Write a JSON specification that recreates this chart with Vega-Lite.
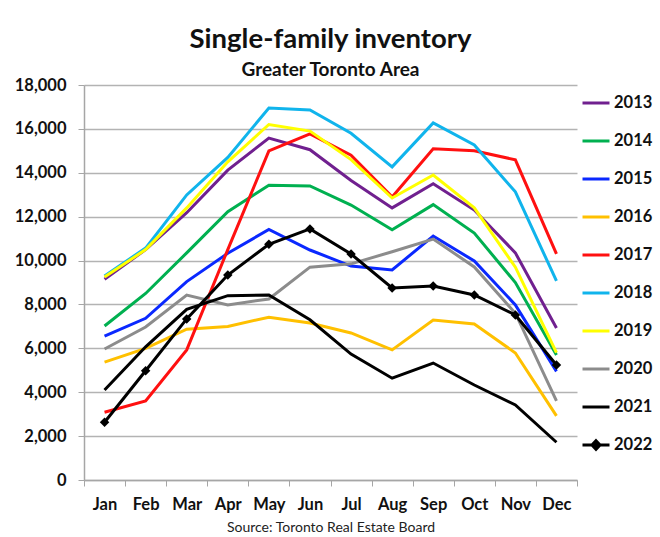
{
  "$schema": "https://vega.github.io/schema/vega-lite/v6.json",
  "width": 493,
  "height": 395,
  "autosize": {"type": "none"},
  "padding": {"left": 84, "top": 85, "right": 83, "bottom": 57},
  "background": "white",
  "title": {
    "text": "Single-family inventory",
    "subtitle": "Greater Toronto Area",
    "anchor": "middle",
    "font": "Lato",
    "fontSize": 27.5,
    "fontWeight": "bold",
    "color": "#111",
    "subtitleFont": "Lato",
    "subtitleFontSize": 19,
    "subtitleFontWeight": "bold",
    "subtitleColor": "#111",
    "subtitlePadding": 8,
    "offset": -3
  },
  "config": {
    "view": {"stroke": null},
    "font": "Lato"
  },
  "data": {
    "values": [
      {"year": "2013", "month": "Jan", "value": 9150}, {"year": "2013", "month": "Feb", "value": 10500}, {"year": "2013", "month": "Mar", "value": 12180}, {"year": "2013", "month": "Apr", "value": 14120}, {"year": "2013", "month": "May", "value": 15580}, {"year": "2013", "month": "Jun", "value": 15050}, {"year": "2013", "month": "Jul", "value": 13650}, {"year": "2013", "month": "Aug", "value": 12400}, {"year": "2013", "month": "Sep", "value": 13500}, {"year": "2013", "month": "Oct", "value": 12300}, {"year": "2013", "month": "Nov", "value": 10350}, {"year": "2013", "month": "Dec", "value": 6930},
      {"year": "2014", "month": "Jan", "value": 7020}, {"year": "2014", "month": "Feb", "value": 8500}, {"year": "2014", "month": "Mar", "value": 10350}, {"year": "2014", "month": "Apr", "value": 12230}, {"year": "2014", "month": "May", "value": 13430}, {"year": "2014", "month": "Jun", "value": 13400}, {"year": "2014", "month": "Jul", "value": 12530}, {"year": "2014", "month": "Aug", "value": 11400}, {"year": "2014", "month": "Sep", "value": 12550}, {"year": "2014", "month": "Oct", "value": 11250}, {"year": "2014", "month": "Nov", "value": 9000}, {"year": "2014", "month": "Dec", "value": 5700},
      {"year": "2015", "month": "Jan", "value": 6560}, {"year": "2015", "month": "Feb", "value": 7370}, {"year": "2015", "month": "Mar", "value": 9040}, {"year": "2015", "month": "Apr", "value": 10330}, {"year": "2015", "month": "May", "value": 11420}, {"year": "2015", "month": "Jun", "value": 10480}, {"year": "2015", "month": "Jul", "value": 9750}, {"year": "2015", "month": "Aug", "value": 9570}, {"year": "2015", "month": "Sep", "value": 11120}, {"year": "2015", "month": "Oct", "value": 9980}, {"year": "2015", "month": "Nov", "value": 7980}, {"year": "2015", "month": "Dec", "value": 4950},
      {"year": "2016", "month": "Jan", "value": 5370}, {"year": "2016", "month": "Feb", "value": 6000}, {"year": "2016", "month": "Mar", "value": 6870}, {"year": "2016", "month": "Apr", "value": 7000}, {"year": "2016", "month": "May", "value": 7420}, {"year": "2016", "month": "Jun", "value": 7150}, {"year": "2016", "month": "Jul", "value": 6700}, {"year": "2016", "month": "Aug", "value": 5930}, {"year": "2016", "month": "Sep", "value": 7290}, {"year": "2016", "month": "Oct", "value": 7110}, {"year": "2016", "month": "Nov", "value": 5790}, {"year": "2016", "month": "Dec", "value": 2920},
      {"year": "2017", "month": "Jan", "value": 3090}, {"year": "2017", "month": "Feb", "value": 3600}, {"year": "2017", "month": "Mar", "value": 5930}, {"year": "2017", "month": "Apr", "value": 10500}, {"year": "2017", "month": "May", "value": 15000}, {"year": "2017", "month": "Jun", "value": 15770}, {"year": "2017", "month": "Jul", "value": 14800}, {"year": "2017", "month": "Aug", "value": 12900}, {"year": "2017", "month": "Sep", "value": 15090}, {"year": "2017", "month": "Oct", "value": 15000}, {"year": "2017", "month": "Nov", "value": 14590}, {"year": "2017", "month": "Dec", "value": 10300},
      {"year": "2018", "month": "Jan", "value": 9300}, {"year": "2018", "month": "Feb", "value": 10570}, {"year": "2018", "month": "Mar", "value": 12990}, {"year": "2018", "month": "Apr", "value": 14700}, {"year": "2018", "month": "May", "value": 16950}, {"year": "2018", "month": "Jun", "value": 16860}, {"year": "2018", "month": "Jul", "value": 15800}, {"year": "2018", "month": "Aug", "value": 14270}, {"year": "2018", "month": "Sep", "value": 16270}, {"year": "2018", "month": "Oct", "value": 15270}, {"year": "2018", "month": "Nov", "value": 13130}, {"year": "2018", "month": "Dec", "value": 9070},
      {"year": "2019", "month": "Jan", "value": 9250}, {"year": "2019", "month": "Feb", "value": 10500}, {"year": "2019", "month": "Mar", "value": 12400}, {"year": "2019", "month": "Apr", "value": 14500}, {"year": "2019", "month": "May", "value": 16200}, {"year": "2019", "month": "Jun", "value": 15900}, {"year": "2019", "month": "Jul", "value": 14600}, {"year": "2019", "month": "Aug", "value": 12850}, {"year": "2019", "month": "Sep", "value": 13900}, {"year": "2019", "month": "Oct", "value": 12400}, {"year": "2019", "month": "Nov", "value": 9700}, {"year": "2019", "month": "Dec", "value": 5800},
      {"year": "2020", "month": "Jan", "value": 5970}, {"year": "2020", "month": "Feb", "value": 6970}, {"year": "2020", "month": "Mar", "value": 8430}, {"year": "2020", "month": "Apr", "value": 7980}, {"year": "2020", "month": "May", "value": 8250}, {"year": "2020", "month": "Jun", "value": 9700}, {"year": "2020", "month": "Jul", "value": 9850}, {"year": "2020", "month": "Aug", "value": 10400}, {"year": "2020", "month": "Sep", "value": 10980}, {"year": "2020", "month": "Oct", "value": 9710}, {"year": "2020", "month": "Nov", "value": 7600}, {"year": "2020", "month": "Dec", "value": 3610},
      {"year": "2021", "month": "Jan", "value": 4100}, {"year": "2021", "month": "Feb", "value": 6070}, {"year": "2021", "month": "Mar", "value": 7780}, {"year": "2021", "month": "Apr", "value": 8400}, {"year": "2021", "month": "May", "value": 8430}, {"year": "2021", "month": "Jun", "value": 7300}, {"year": "2021", "month": "Jul", "value": 5740}, {"year": "2021", "month": "Aug", "value": 4640}, {"year": "2021", "month": "Sep", "value": 5330}, {"year": "2021", "month": "Oct", "value": 4330}, {"year": "2021", "month": "Nov", "value": 3420}, {"year": "2021", "month": "Dec", "value": 1720},
      {"year": "2022", "month": "Jan", "value": 2630}, {"year": "2022", "month": "Feb", "value": 4980}, {"year": "2022", "month": "Mar", "value": 7340}, {"year": "2022", "month": "Apr", "value": 9340}, {"year": "2022", "month": "May", "value": 10740}, {"year": "2022", "month": "Jun", "value": 11440}, {"year": "2022", "month": "Jul", "value": 10300}, {"year": "2022", "month": "Aug", "value": 8750}, {"year": "2022", "month": "Sep", "value": 8840}, {"year": "2022", "month": "Oct", "value": 8430}, {"year": "2022", "month": "Nov", "value": 7520}, {"year": "2022", "month": "Dec", "value": 5240}
    ]
  },
  "encoding": {
    "x": {
      "field": "month",
      "type": "ordinal",
      "sort": ["Jan", "Feb", "Mar", "Apr", "May", "Jun", "Jul", "Aug", "Sep", "Oct", "Nov", "Dec"],
      "scale": {"type": "band", "paddingInner": 0, "paddingOuter": 0},
      "axis": {
        "title": "Source: Toronto Real Estate Board",
        "titleFont": "Lato",
        "titleFontSize": 14,
        "titleFontWeight": "normal",
        "titleColor": "#222",
        "titlePadding": 8,
        "labelAngle": 0,
        "labelFont": "Lato",
        "labelFontSize": 16.5,
        "labelFontWeight": "bold",
        "labelColor": "#111",
        "labelPadding": 10,
        "tickBand": "extent",
        "tickSize": 6,
        "tickColor": "#a6a6a6",
        "domainColor": "#a6a6a6",
        "domainWidth": 1.5,
        "grid": false
      }
    },
    "y": {
      "field": "value",
      "type": "quantitative",
      "scale": {"domain": [0, 18000], "nice": false},
      "axis": {
        "title": null,
        "values": [0, 2000, 4000, 6000, 8000, 10000, 12000, 14000, 16000, 18000],
        "format": ",d",
        "labelFont": "Lato",
        "labelFontSize": 16.5,
        "labelFontWeight": "bold",
        "labelColor": "#111",
        "labelPadding": 12,
        "tickSize": 6,
        "tickColor": "#a6a6a6",
        "domainColor": "#a6a6a6",
        "domainWidth": 1.5,
        "gridColor": "#b3b3b3",
        "gridWidth": 1.5
      }
    },
    "color": {
      "field": "year",
      "type": "nominal",
      "scale": {
        "domain": ["2013", "2014", "2015", "2016", "2017", "2018", "2019", "2020", "2021", "2022"],
        "range": ["#70208f", "#00b050", "#0a28ff", "#ffc000", "#ff1010", "#10b4ec", "#ffff00", "#8c8c8c", "#000000", "#000000"]
      },
      "legend": {
        "title": null,
        "orient": "none",
        "legendX": 497,
        "legendY": 3,
        "symbolType": "stroke",
        "symbolSize": 729,
        "symbolStrokeWidth": 3,
        "labelFont": "Lato",
        "labelFontSize": 16.5,
        "labelFontWeight": "bold",
        "labelColor": "#111",
        "labelOffset": 3,
        "rowPadding": 14,
        "encode": {
          "symbols": {
            "update": {
              "shape": {"signal": "datum.value == '2022' ? 'M-1,0L1,0M0,-0.32L0.3,0L0,0.32L-0.3,0Z' : 'stroke'"},
              "fill": {"signal": "datum.value == '2022' ? 'black' : 'transparent'"}
            }
          }
        }
      }
    }
  },
  "layer": [
    {
      "mark": {"type": "line", "strokeWidth": 3}
    },
    {
      "transform": [{"filter": "datum.year == '2022'"}],
      "mark": {"type": "point", "shape": "diamond", "filled": true, "size": 90, "opacity": 1},
      "encoding": {"color": {"value": "black"}}
    }
  ]
}
